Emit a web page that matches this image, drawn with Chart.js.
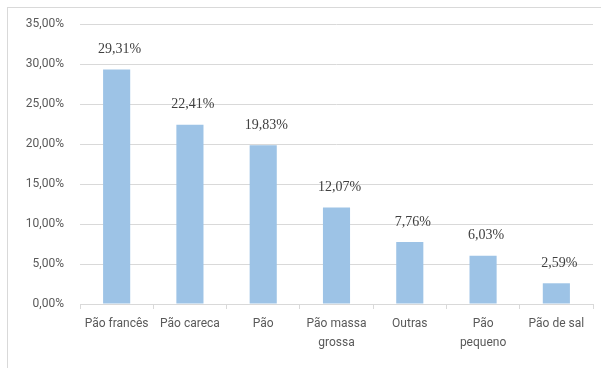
<!DOCTYPE html>
<html>
<head>
<meta charset="utf-8">
<script src="https://cdn.jsdelivr.net/npm/chart.js@4/dist/chart.umd.min.js"></script>
<style>
  html, body { margin: 0; padding: 0; background: #fff; overflow: hidden; }
  #wrap { position: relative; width: 601px; height: 368px; }
  #frame {
    position: absolute; left: 7px; top: 7px; width: 700px; height: 400px;
    border: 1px solid #d9d9d9; box-sizing: border-box;
  }
  #chart { position: absolute; left: 0; top: 0; }
</style>
</head>
<body>
<div id="wrap">
  <div id="frame"></div>
  <canvas id="chart" width="601" height="368"></canvas>
</div>
<script>
// Tipos de pão e participação (%)
const categories = [
  'Pão francês',
  'Pão careca',
  'Pão',
  ['Pão massa', 'grossa'],
  'Outras',
  ['Pão', 'pequeno'],
  'Pão de sal',
];
const shares = [29.31, 22.41, 19.83, 12.07, 7.76, 6.03, 2.59];
const yTicks = [0, 5, 10, 15, 20, 25, 30, 35];

const fmtPct = v => v.toFixed(2).replace('.', ',') + '%';

// value labels above each bar
const valueLabels = {
  id: 'valueLabels',
  afterDatasetsDraw(chart) {
    const ctx = chart.ctx;
    const meta = chart.getDatasetMeta(0);
    ctx.save();
    ctx.font = '14px "Liberation Serif", "Times New Roman", serif';
    ctx.fillStyle = '#404040';
    ctx.textAlign = 'center';
    ctx.textBaseline = 'middle';
    meta.data.forEach((bar, i) => {
      ctx.fillText(fmtPct(shares[i]), bar.x + 3, bar.y - 20);
    });
    ctx.restore();
  },
};

new Chart(document.getElementById('chart'), {
  type: 'bar',
  data: {
    labels: categories,
    datasets: [{
      data: shares,
      backgroundColor: '#9dc3e6',
      borderWidth: 0,
      barPercentage: 0.37,
      categoryPercentage: 1,
    }],
  },
  plugins: [valueLabels],
  options: {
    responsive: false,
    animation: false,
    layout: { padding: { left: 0, right: 8, top: 24, bottom: 0 } },
    plugins: {
      legend: { display: false },
      tooltip: { enabled: false },
    },
    scales: {
      x: {
        grid: {
          offset: true,
          drawOnChartArea: false,
          drawTicks: true,
          tickLength: 5,
          color: '#d9d9d9',
        },
        border: { color: '#d9d9d9' },
        ticks: {
          color: '#595959',
          font: { family: 'Roboto', size: 12, lineHeight: 1.6 },
          padding: 5,
          maxRotation: 0,
          autoSkip: false,
        },
        afterFit(scale) { scale.height = 64; },
      },
      y: {
        min: 0,
        max: 35,
        afterBuildTicks(scale) { scale.ticks = yTicks.map(v => ({ value: v })); },
        grid: { color: '#d9d9d9', drawTicks: false },
        border: { display: false },
        ticks: {
          color: '#595959',
          font: { family: 'Roboto', size: 12 },
          padding: 16,
          callback: v => fmtPct(v),
        },
        afterFit(scale) { scale.width = 80; },
      },
    },
  },
});
</script>
</body>
</html>
